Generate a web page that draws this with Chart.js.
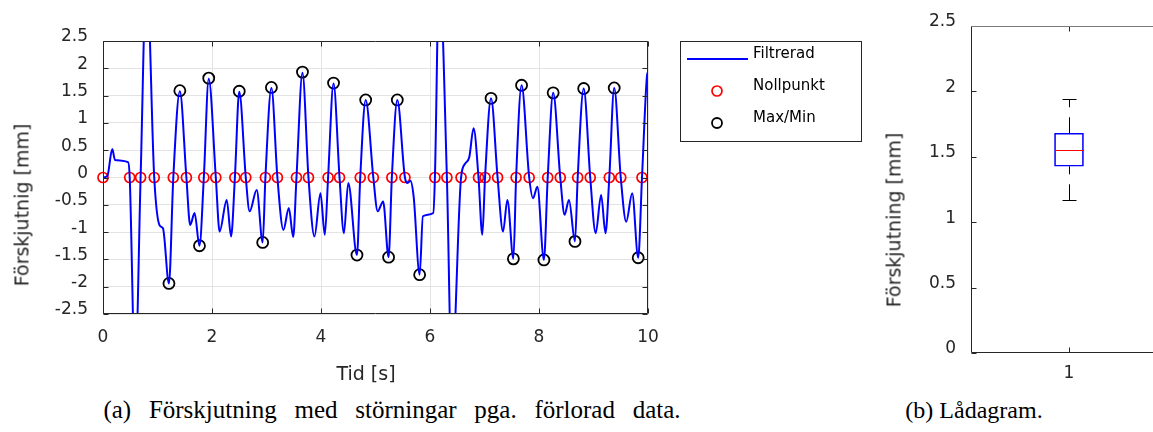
<!DOCTYPE html>
<html>
<head>
<meta charset="utf-8">
<script src="https://cdn.jsdelivr.net/npm/chart.js@4.4.1/dist/chart.umd.min.js"></script>
<style>
body { margin:0; width:1153px; height:432px; overflow:hidden; background:#fff; position:relative; }
canvas { position:absolute; top:0; }
#left { left:0; }
#right { left:870px; }
.cap { position:absolute; font-family:"Liberation Serif","Times New Roman",serif; font-size:24px; color:#000; white-space:nowrap; transform:translate(-50%,-50%); }
.atitle { position:absolute; font-family:"DejaVu Sans",sans-serif; font-size:19px; color:#262626; white-space:nowrap; transform:translate(-50%,-50%); line-height:1; }
.rot { transform:translate(-50%,-50%) rotate(-90deg); }
</style>
</head>
<body>
<canvas id="left" width="870" height="392"></canvas>
<canvas id="right" width="300" height="392"></canvas>
<div class="atitle rot" style="left:22px;top:205px">Förskjutnig [mm]</div>
<div class="atitle" style="left:366px;top:373px">Tid [s]</div>
<div class="atitle rot" style="left:894px;top:220px">Förskjutning [mm]</div>
<div class="cap" style="left:392px;top:410px;font-size:25px;word-spacing:11.5px">(a) Förskjutning med störningar pga. förlorad data.</div>
<div class="cap" style="left:974px;top:410px">(b) Lådagram.</div>
<script>
// filtered displacement (s, mm)
const timeS = [0, 0.08, 0.17, 0.22, 0.46, 0.49, 0.59, 0.69, 0.80, 0.94,
  1.04, 1.10, 1.21, 1.29, 1.41, 1.53, 1.60, 1.68, 1.77, 1.85,
  1.94, 2.07, 2.14, 2.27, 2.35, 2.42, 2.50, 2.62, 2.69, 2.82,
  2.93, 2.98, 3.09, 3.20, 3.31, 3.41, 3.49, 3.55, 3.66, 3.77,
  3.88, 3.99, 4.07, 4.13, 4.23, 4.34, 4.42, 4.50, 4.66, 4.72,
  4.82, 4.96, 5.04, 5.14, 5.24, 5.30, 5.40, 5.54, 5.59, 5.64,
  5.70, 5.81, 5.87, 6.06, 6.09, 6.17, 6.31, 6.40, 6.57, 6.65,
  6.72, 6.80, 6.89, 6.96, 7.01, 7.12, 7.24, 7.34, 7.42, 7.53,
  7.58, 7.68, 7.82, 7.89, 7.97, 8.09, 8.16, 8.26, 8.39, 8.47,
  8.55, 8.66, 8.71, 8.82, 8.94, 9.04, 9.14, 9.22, 9.29, 9.38,
  9.50, 9.60, 9.71, 9.82, 9.89, 9.98, 10];
const dispMm = [0, 0.03, 0.52, 0.32, 0.28, 0, -3.6, 0, 3.8, 0,
  -0.88, -0.93, -1.94, 0, 1.58, 0, -0.87, -0.65, -1.25, 0,
  1.81, 0, -0.99, -0.41, -1.08, 0, 1.57, 0, -0.62, -0.23,
  -1.19, 0, 1.64, 0, -0.96, -0.56, -1.09, 0, 1.92, 0,
  -1.08, -0.29, -1.05, 0, 1.72, 0, -1.02, -0.10, -1.42, 0,
  1.42, 0, -0.62, -0.44, -1.46, 0, 1.42, 0, -0.10, -0.06,
  -0.35, -1.78, -0.71, -0.65, 0, 3.8, 0, -3.6, 0, 0.26,
  0.37, 0.90, 0, -1.05, 0, 1.45, 0, -0.99, -0.41, -1.49,
  0, 1.69, 0, -0.38, -0.17, -1.51, 0, 1.55, 0, -0.68,
  -0.41, -1.17, 0, 1.63, 0, -1.02, -0.32, -1.02, 0, 1.64,
  0, -0.81, -0.29, -1.47, 0, 1.85, 1.93];

// zero crossings (Nollpunkt)
const zeroT = [0, 0.49, 0.69, 0.94, 1.29, 1.53, 1.85, 2.07, 2.42, 2.62,
  2.98, 3.20, 3.55, 3.77, 4.13, 4.34, 4.72, 4.96, 5.30, 5.54,
  6.09, 6.31, 6.57, 6.89, 7.01, 7.24, 7.58, 7.82, 8.16, 8.39,
  8.71, 8.94, 9.29, 9.50, 9.89];

// peaks and valleys (Max/Min)
const extT = [1.21, 1.41, 1.77, 1.94, 2.50, 2.93, 3.09, 3.66, 4.23, 4.66,
  4.82, 5.24, 5.40, 5.81, 7.12, 7.53, 7.68, 8.09, 8.26, 8.66,
  8.82, 9.38, 9.82];
const extMm = [-1.94, 1.59, -1.25, 1.82, 1.58, -1.19, 1.65, 1.93, 1.73, -1.42,
  1.42, -1.46, 1.42, -1.78, 1.45, -1.49, 1.69, -1.51, 1.55, -1.17,
  1.63, 1.64, -1.47];

const xTicks = [0, 2, 4, 6, 8, 10];
const yTicks = [-2.5, -2, -1.5, -1, -0.5, 0, 0.5, 1, 1.5, 2, 2.5];
const boxTicks = [0, 0.5, 1, 1.5, 2, 2.5];
const boxCats = ['1'];

const FONT = '"DejaVu Sans", sans-serif';
const AX = '#262626';

// matlab style percentiles for the box plot
function prctile(s, p) {
  const n = s.length;
  const pos = p / 100 * n + 0.5;
  if (pos < 1) return s[0];
  if (pos >= n) return s[n - 1];
  const i = Math.floor(pos);
  return s[i - 1] + (pos - i) * (s[i] - s[i - 1]);
}
const amp = extMm.map(Math.abs).sort((a, b) => a - b);
const q1 = prctile(amp, 25), med = prctile(amp, 50), q3 = prctile(amp, 75);
const iqr = q3 - q1;
const whiskHi = Math.max(...amp.filter(v => v <= q3 + 1.5 * iqr));
const whiskLo = Math.min(...amp.filter(v => v >= q1 - 1.5 * iqr));

const fmt = v => String(Math.round(v * 10) / 10);

// box round the axes + ticks pointing inwards
const frame = {
  id: 'frame',
  afterDraw(chart, args, o) {
    const ctx = chart.ctx, a = chart.chartArea;
    const L = Math.round(a.left) + 0.5, R = Math.round(a.right) - 0.5;
    const T = Math.round(a.top) + 0.5, B = Math.round(a.bottom) - 0.5;
    const xEnd = o.right ? R : R + 20;
    ctx.save();
    ctx.lineWidth = 1;
    ctx.strokeStyle = AX;
    ctx.beginPath();
    chart.scales.x.ticks.forEach((t, i) => {
      const px = Math.round(chart.scales.x.getPixelForTick(i)) + 0.5;
      ctx.moveTo(px, B); ctx.lineTo(px, B - 5);
      ctx.moveTo(px, T); ctx.lineTo(px, T + 5);
    });
    chart.scales.y.ticks.forEach((t, i) => {
      const py = Math.round(chart.scales.y.getPixelForTick(i)) + 0.5;
      ctx.moveTo(L, py); ctx.lineTo(L + 5, py);
      if (o.right) { ctx.moveTo(R, py); ctx.lineTo(R - 5, py); }
    });
    ctx.moveTo(L, T); ctx.lineTo(L, B); ctx.lineTo(xEnd, B);
    if (o.right) { ctx.moveTo(R, T); ctx.lineTo(R, B); }
    ctx.stroke();
    ctx.strokeStyle = o.topColor || AX;
    ctx.beginPath(); ctx.moveTo(L, T); ctx.lineTo(xEnd, T); ctx.stroke();
    ctx.restore();
  }
};

const boxLegend = {
  id: 'boxLegend',
  afterDraw(chart, args, o) {
    if (!o.show) return;
    const ctx = chart.ctx;
    ctx.save();
    ctx.fillStyle = '#fff';
    ctx.fillRect(o.x, o.y, o.w, o.h);
    ctx.strokeStyle = AX; ctx.lineWidth = 1;
    ctx.strokeRect(o.x + 0.5, o.y + 0.5, o.w, o.h);
    ctx.font = '15px ' + FONT;
    ctx.textBaseline = 'middle';
    chart.data.datasets.forEach((ds, i) => {
      const yy = o.y + o.rows[i];
      if (ds.pointRadius === 0) {
        ctx.strokeStyle = ds.borderColor; ctx.lineWidth = 2;
        ctx.beginPath(); ctx.moveTo(o.x + 7, yy); ctx.lineTo(o.x + 68, yy); ctx.stroke();
      } else {
        ctx.strokeStyle = ds.borderColor; ctx.lineWidth = ds.pointBorderWidth;
        ctx.beginPath(); ctx.arc(o.x + 37, yy, 5, 0, Math.PI * 2); ctx.stroke();
      }
      ctx.fillStyle = '#000';
      ctx.fillText(ds.label, o.x + 73, yy - 5);
    });
    ctx.restore();
  }
};

Chart.register(frame, boxLegend);

new Chart(document.getElementById('left'), {
  type: 'line',
  data: {
    datasets: [
      { label: 'Filtrerad', data: timeS.map((t, i) => ({ x: t, y: dispMm[i] })),
        borderColor: '#0000ff', borderWidth: 2, pointRadius: 0, cubicInterpolationMode: 'monotone', fill: false },
      { label: 'Nollpunkt', data: zeroT.map(t => ({ x: t, y: 0 })), showLine: false, clip: false,
        pointRadius: 5, pointBorderWidth: 1.7, borderColor: '#ff0000', pointBorderColor: '#ff0000', pointBackgroundColor: 'rgba(0,0,0,0)' },
      { label: 'Max/Min', data: extT.map((t, i) => ({ x: t, y: extMm[i] })), showLine: false, clip: false,
        pointRadius: 5.5, pointBorderWidth: 1.8, borderColor: '#000000', pointBorderColor: '#000000', pointBackgroundColor: 'rgba(0,0,0,0)' }
    ]
  },
  options: {
    responsive: false, animation: false, events: [],
    layout: { padding: { left: 0, right: 222, top: 41, bottom: 0 } },
    plugins: {
      legend: { display: false }, tooltip: { enabled: false },
      frame: { right: true },
      boxLegend: { show: true, x: 680, y: 41, w: 181, h: 100, rows: [18, 50, 82] }
    },
    scales: {
      x: {
        type: 'linear', min: 0, max: 10,
        afterBuildTicks: s => { s.ticks = xTicks.map(v => ({ value: v })); },
        afterFit: s => { s.height = 78; },
        grid: { color: '#e3e3e3', drawTicks: false },
        border: { display: false },
        ticks: { font: { family: FONT, size: 17 }, color: AX, padding: 13, maxRotation: 0, callback: fmt }
      },
      y: {
        min: -2.5, max: 2.5,
        afterBuildTicks: s => { s.ticks = yTicks.map(v => ({ value: v })); },
        afterFit: s => { s.width = 103; },
        grid: { color: '#e3e3e3', drawTicks: false },
        border: { display: false },
        ticks: { font: { family: FONT, size: 17 }, color: AX, padding: 15, labelOffset: -4, callback: fmt }
      }
    }
  }
});

// box plot of the peak amplitudes
const boxDraw = {
  id: 'boxDraw',
  afterDatasetsDraw(chart) {
    const ctx = chart.ctx, xs = chart.scales.x, ys = chart.scales.y;
    const cx = Math.round(xs.getPixelForValue(0)) + 0.5;
    const bar = chart.getDatasetMeta(0).data[0];
    const hw = bar.width / 2;
    ctx.save();
    ctx.lineWidth = 1;
    ctx.strokeStyle = '#000';
    ctx.setLineDash([8, 10, 16, 100]);
    ctx.beginPath();
    ctx.moveTo(cx, ys.getPixelForValue(whiskHi)); ctx.lineTo(cx, ys.getPixelForValue(q3));
    ctx.moveTo(cx, ys.getPixelForValue(q1)); ctx.lineTo(cx, ys.getPixelForValue(whiskLo));
    ctx.stroke();
    ctx.setLineDash([]);
    ctx.beginPath();
    [whiskHi, whiskLo].forEach(v => {
      const py = Math.round(ys.getPixelForValue(v)) + 0.5;
      ctx.moveTo(cx - 7, py); ctx.lineTo(cx + 7, py);
    });
    ctx.stroke();
    ctx.strokeStyle = '#ff0000';
    const pm = Math.round(ys.getPixelForValue(med)) + 0.5;
    ctx.beginPath(); ctx.moveTo(cx - hw, pm); ctx.lineTo(cx + hw, pm); ctx.stroke();
    ctx.restore();
  }
};

new Chart(document.getElementById('right'), {
  type: 'bar',
  data: {
    labels: boxCats,
    datasets: [{ label: 'Lådagram', data: [[q1, q3]], backgroundColor: 'rgba(0,0,0,0)',
      borderColor: '#0000ff', borderWidth: 1, borderSkipped: false, barThickness: 29 }]
  },
  plugins: [boxDraw],
  options: {
    responsive: false, animation: false, events: [],
    layout: { padding: { left: 0, right: 3, top: 26, bottom: 0 } },
    plugins: { legend: { display: false }, tooltip: { enabled: false }, frame: { right: false, topColor: '#7a7a7a' }, boxLegend: { show: false } },
    scales: {
      x: {
        afterFit: s => { s.height = 39; },
        grid: { display: false, drawTicks: false },
        border: { display: false },
        ticks: { font: { family: FONT, size: 17 }, color: AX, padding: 10 }
      },
      y: {
        min: 0, max: 2.5,
        afterBuildTicks: s => { s.ticks = boxTicks.map(v => ({ value: v })); },
        afterFit: s => { s.width = 101; },
        grid: { display: false, drawTicks: false },
        border: { display: false },
        ticks: { font: { family: FONT, size: 17 }, color: AX, padding: 15, labelOffset: -4, callback: fmt }
      }
    }
  }
});
</script>
</body>
</html>
